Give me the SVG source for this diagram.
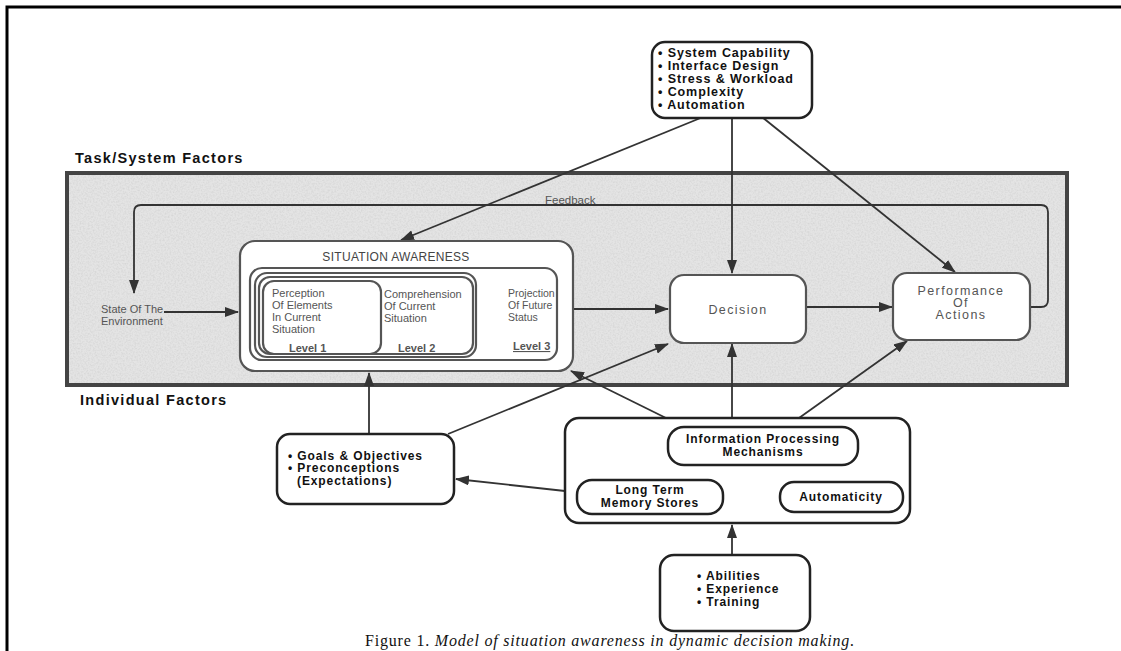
<svg xmlns="http://www.w3.org/2000/svg" width="1121" height="651" viewBox="0 0 1121 651">
<defs>
<marker id="ah" markerUnits="userSpaceOnUse" markerWidth="14" markerHeight="10" viewBox="0 0 14 10" refX="13" refY="5" orient="auto">
<path d="M0,0 L14,5 L0,10 Z" fill="#333"/>
</marker>
<filter id="noise" x="0" y="0" width="100%" height="100%">
<feTurbulence type="fractalNoise" baseFrequency="0.6" numOctaves="2" seed="3" result="n"/>
<feColorMatrix in="n" type="matrix" values="0 0 0 0 0.5  0 0 0 0 0.5  0 0 0 0 0.5  0 0 0 -1.2 0.75" result="m"/>
<feComposite in="m" in2="SourceGraphic" operator="in"/>
</filter>
</defs>
<style>
.frame{stroke:#000;stroke-width:3;fill:none}
.box{fill:#fff;stroke:#222;stroke-width:2.5}
.gbox{fill:#fff;stroke:#555;stroke-width:2.2}
.arr{stroke:#333;stroke-width:1.8;fill:none;marker-end:url(#ah)}
.bt{font-family:"Liberation Sans",Arial,sans-serif;font-weight:bold;font-size:12px;letter-spacing:0.9px;fill:#111}
.gt{font-family:"Liberation Sans",Arial,sans-serif;font-size:11px;fill:#555}
.gl{font-family:"Liberation Sans",Arial,sans-serif;font-size:12.5px;letter-spacing:1.4px;fill:#555}
.ht{font-family:"Liberation Sans",Arial,sans-serif;font-weight:bold;font-size:14.5px;letter-spacing:1.3px;fill:#111}
.lv{font-family:"Liberation Sans",Arial,sans-serif;font-weight:bold;font-size:11px;fill:#555;text-decoration:underline}
.cap{font-family:"Liberation Serif","Times New Roman",serif;font-size:16px;letter-spacing:0.8px;fill:#111}
</style>
<rect width="1121" height="651" fill="#fff"/>
<path class="frame" d="M7,651 L7,7 L1121,7"/>

<g id="task-system-region">
<rect x="67" y="173" width="1000" height="212" fill="#e4e4e4" stroke="#444" stroke-width="4"/>
<rect x="69" y="175" width="996" height="208" fill="#fff" filter="url(#noise)" opacity="0.55"/>
<text class="ht" x="75" y="163">Task/System Factors</text>
<text class="ht" x="80" y="405">Individual Factors</text>
</g>

<g id="connectors">
<path class="arr" d="M1030,307 L1041,307 Q1048,307 1048,300 L1048,212 Q1048,205 1041,205 L141,205 Q134,205 134,212 L134,293"/>
<text class="gt" x="545" y="204" style="font-size:11.5px">Feedback</text>
<path class="arr" d="M164,312 L238,312"/>
<path class="arr" d="M573,309 L668,309"/>
<path class="arr" d="M806,307 L892,307"/>
<path class="arr" d="M703,117 L401,240"/>
<path class="arr" d="M732,117 L732,273"/>
<path class="arr" d="M762,117 L955,272"/>
<path class="arr" d="M369,433 L369,373"/>
<path class="arr" d="M448,434 L668,344"/>
<path class="arr" d="M666,418 L571,371"/>
<path class="arr" d="M732,418 L732,344"/>
<path class="arr" d="M799,418 L907,341"/>
<path class="arr" d="M565,491 L456,479"/>
<path class="arr" d="M732,555 L732,525"/>
</g>

<g id="task-factors">
<rect class="box" x="652" y="42" width="160" height="76" rx="13"/>
<text class="bt" x="658" y="57" style="font-size:12.5px">• System Capability</text>
<text class="bt" x="658" y="70" style="font-size:12.5px">• Interface Design</text>
<text class="bt" x="658" y="83" style="font-size:12.5px">• Stress &amp; Workload</text>
<text class="bt" x="658" y="96" style="font-size:12.5px">• Complexity</text>
<text class="bt" x="658" y="109" style="font-size:12.5px">• Automation</text>
</g>

<g id="state-environment">
<text class="gt" x="101" y="313">State Of The</text>
<text class="gt" x="101" y="325">Environment</text>
</g>

<g id="situation-awareness">
<rect class="gbox" x="240" y="241" width="333" height="130" rx="15"/>
<text x="396" y="261" text-anchor="middle" style="font-family:'Liberation Sans',Arial,sans-serif;font-size:12px;letter-spacing:0.3px;fill:#444">SITUATION AWARENESS</text>
<rect class="gbox" x="250" y="268" width="307" height="92" rx="12"/>
<rect class="gbox" x="255" y="273" width="221" height="84" rx="12"/>
<rect class="gbox" x="259" y="277" width="214" height="77" rx="11"/>
<rect class="gbox" x="263" y="281" width="118" height="73" rx="11"/>
<text class="gt" x="272" y="297">Perception</text>
<text class="gt" x="272" y="309">Of Elements</text>
<text class="gt" x="272" y="321">In Current</text>
<text class="gt" x="272" y="333">Situation</text>
<text class="lv" x="289" y="352">Level 1</text>
<text class="gt" x="384" y="298">Comprehension</text>
<text class="gt" x="384" y="310">Of Current</text>
<text class="gt" x="384" y="322">Situation</text>
<text class="lv" x="398" y="352">Level 2</text>
<text class="gt" x="508" y="297" style="font-size:10.5px">Projection</text>
<text class="gt" x="508" y="309" style="font-size:10.5px">Of Future</text>
<text class="gt" x="508" y="321" style="font-size:10.5px">Status</text>
<text class="lv" x="513" y="350">Level 3</text>
</g>

<g id="decision">
<rect class="gbox" x="670" y="275" width="136" height="68" rx="14"/>
<text class="gl" x="738" y="314" text-anchor="middle">Decision</text>
</g>

<g id="performance">
<rect class="gbox" x="893" y="273" width="137" height="67" rx="14"/>
<text class="gl" x="961" y="295" text-anchor="middle">Performance</text>
<text class="gl" x="961" y="307" text-anchor="middle">Of</text>
<text class="gl" x="961" y="319" text-anchor="middle">Actions</text>
</g>

<g id="goals">
<rect class="box" x="277" y="434" width="177" height="70" rx="13"/>
<text class="bt" x="288" y="460">• Goals &amp; Objectives</text>
<text class="bt" x="288" y="472">• Preconceptions</text>
<text class="bt" x="297" y="485">(Expectations)</text>
</g>

<g id="individual-mechanisms">
<rect class="box" x="565" y="418" width="345" height="105" rx="14"/>
<rect class="box" x="668" y="427" width="190" height="38" rx="16"/>
<text class="bt" x="763" y="443" text-anchor="middle">Information Processing</text>
<text class="bt" x="763" y="456" text-anchor="middle">Mechanisms</text>
<rect class="box" x="577" y="480" width="146" height="34" rx="15"/>
<text class="bt" x="650" y="494" text-anchor="middle">Long Term</text>
<text class="bt" x="650" y="507" text-anchor="middle">Memory Stores</text>
<rect class="box" x="780" y="482" width="123" height="30" rx="14"/>
<text class="bt" x="841" y="501" text-anchor="middle">Automaticity</text>
</g>

<g id="abilities">
<rect class="box" x="660" y="555" width="150" height="76" rx="14"/>
<text class="bt" x="697" y="580">• Abilities</text>
<text class="bt" x="697" y="593">• Experience</text>
<text class="bt" x="697" y="606">• Training</text>
</g>

<g id="caption">
<text class="cap" x="610" y="646" text-anchor="middle">Figure 1. <tspan font-style="italic">Model of situation awareness in dynamic decision making.</tspan></text>
</g>
</svg>
